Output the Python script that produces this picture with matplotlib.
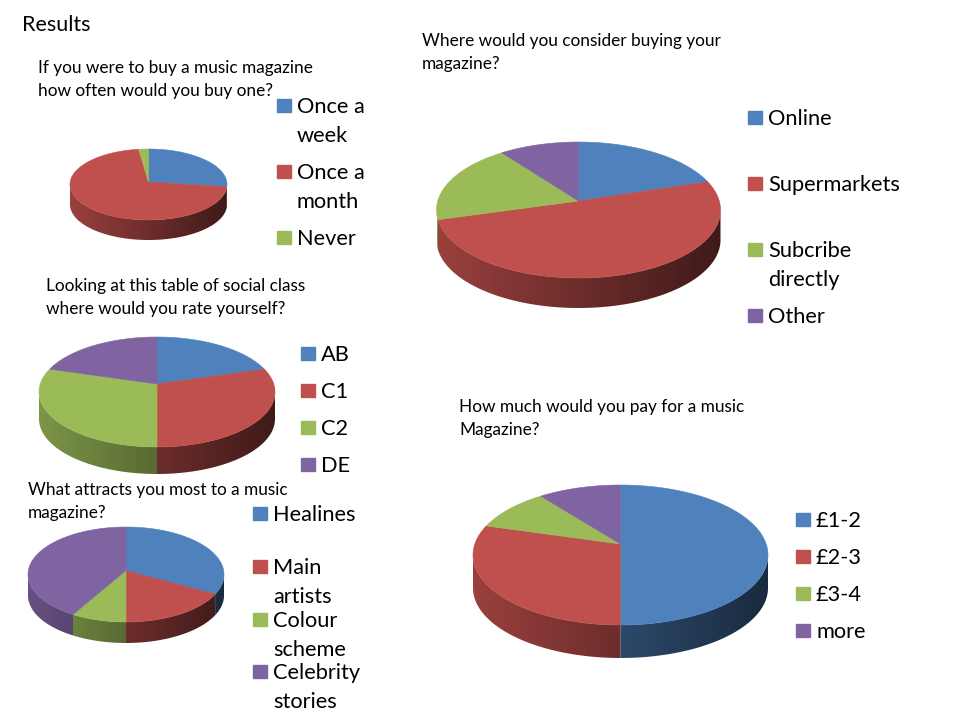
import numpy as np
import matplotlib.pyplot as plt
from matplotlib.patches import Polygon, Rectangle
from matplotlib.colors import to_rgb

plt.rcParams['font.family'] = ['Lato', 'DejaVu Sans']

# ----------------------------
# DATA
# ----------------------------

colors = ["#4F81BD", "#C0504D", "#9BBB59", "#8064A2"]

often_labels = ["Once a\nweek", "Once a\nmonth", "Never"]
often_values = [26, 72, 2]

where_labels = ["Online", "Supermarkets", "Subcribe\ndirectly", "Other"]
where_values = [2, 6, 2, 1]

class_labels = ["AB", "C1", "C2", "DE"]
class_values = [4, 7, 7, 4]

pay_labels = ["£1-2", "£2-3", "£3-4", "more"]
pay_values = [11, 7, 2, 2]

attract_labels = ["Healines", "Main\nartists", "Colour\nscheme", "Celebrity\nstories"]
attract_values = [7, 4, 2, 9]


# ----------------------------
# 3D PIE
# ----------------------------

def ellipse_pts(cx, cy, a, b, th):
    th = np.radians(th)
    return np.column_stack([cx + a * np.cos(th), cy - b * np.sin(th)])


def pie3d(ax, values, cx, cy, a, b, depth, apex=0.0):
    vals = np.array(values, dtype=float)
    angles = 90 - np.concatenate([[0], np.cumsum(vals / vals.sum() * 360)])

    # gradient for the side walls: light on the left, dark on the right
    xs = np.linspace(cx - a, cx + a, 300)
    u = (1 - (xs - cx) / a) / 2
    shade = 0.33 + 0.47 * u

    for i in range(len(vals)):
        hi, lo = angles[i], angles[i + 1]
        s_hi, s_lo = min(hi, 0), max(lo, -180)
        if s_hi <= s_lo:
            continue
        th = np.linspace(s_hi, s_lo, max(int(s_hi - s_lo) * 2, 4))
        top = ellipse_pts(cx, cy, a, b, th)
        bot = top[::-1] + [0, depth]
        side = Polygon(np.vstack([top, bot]), closed=True, facecolor="none",
                       edgecolor="none")
        ax.add_patch(side)
        base = np.array(to_rgb(colors[i % 4]))
        img = shade[None, :, None] * base[None, None, :]
        im = ax.imshow(img, extent=(cx - a, cx + a, cy + b + depth + 2, cy - 2),
                       aspect="auto", interpolation="bilinear", zorder=1)
        im.set_clip_path(side)

    # top face
    for i in range(len(vals)):
        hi, lo = angles[i], angles[i + 1]
        th = np.linspace(hi, lo, max(int(hi - lo) * 2, 4))
        pts = np.vstack([[cx, cy - apex], ellipse_pts(cx, cy, a, b, th)])
        ax.add_patch(Polygon(pts, closed=True, facecolor=colors[i % 4],
                             edgecolor=colors[i % 4], linewidth=0.4, zorder=2))


def lines(ax, text, x, y, step, size, off):
    for k, line in enumerate(text.split("\n")):
        ax.text(x, y + k * step + off, line, fontsize=size, va="baseline", ha="left")


def legend(ax, labels, x, ys, size=15.7, step=29):
    for i, (lab, y) in enumerate(zip(labels, ys)):
        ax.add_patch(Rectangle((x, y - 6.5), 13.5, 13.5, color=colors[i % 4], zorder=3))
        lines(ax, lab, x + 20, y, step, size, 7.8)


def title(ax, text, x, y, size=12.4, step=22.5):
    lines(ax, text, x, y, step, size, 6.2)


# ----------------------------
# FIGURE
# ----------------------------

fig = plt.figure(figsize=(9.6, 7.2), dpi=100)
ax = fig.add_axes([0, 0, 1, 1])

lines(ax, "Results", 22, 23, 0, 15.5, 7.7)

# how often
title(ax, "If you were to buy a music magazine\nhow often would you buy one?", 38, 67)
pie3d(ax, often_values, 148.5, 184.5, 78.5, 35.5, 20, apex=2.5)
legend(ax, often_labels, 277, [105, 171, 237])

# where
title(ax, "Where would you consider buying your\nmagazine?", 422, 40)
pie3d(ax, where_values, 578.5, 210, 142, 68, 30, apex=9)
legend(ax, where_labels, 748, [117, 183, 249, 315])

# social class
title(ax, "Looking at this table of social class\nwhere would you rate yourself?", 46, 285)
pie3d(ax, class_values, 157, 392, 118, 55, 27, apex=8)
legend(ax, class_labels, 301, [353, 390, 427, 464])

# pay
title(ax, "How much would you pay for a music\nMagazine?", 459, 406)
pie3d(ax, pay_values, 620.5, 555, 147.5, 70, 33, apex=11)
legend(ax, pay_labels, 796, [519, 556, 593, 630])

# attracts
title(ax, "What attracts you most to a music\nmagazine?", 28, 489)
pie3d(ax, attract_values, 126, 574.5, 98, 47.5, 21, apex=4)
legend(ax, attract_labels, 253, [513, 566, 619, 671])

ax.set_xlim(0, 960)
ax.set_ylim(720, 0)
ax.axis("off")

fig.savefig("out.png", dpi=100)
